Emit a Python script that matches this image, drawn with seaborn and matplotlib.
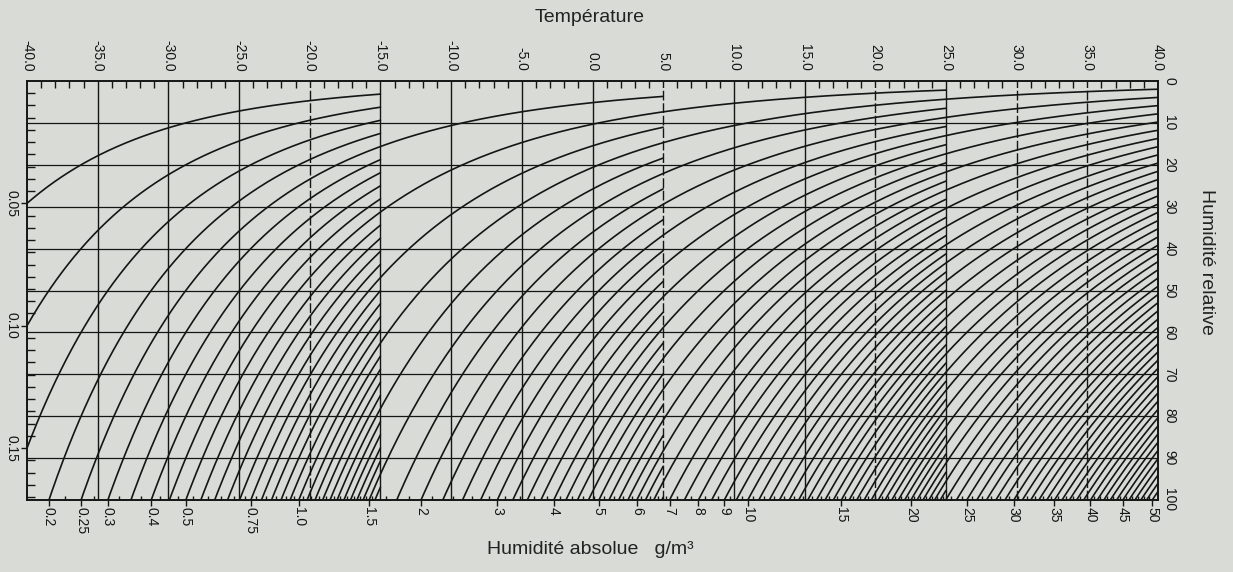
import numpy as np
import pandas as pd
import seaborn as sns
import matplotlib
matplotlib.use('Agg')
import matplotlib.pyplot as plt

# temperature scale (°C) along the top, relative humidity (%) along the right
temp_ticks = [-40, -35, -30, -25, -20, -15, -10, -5, 0, 5, 10, 15, 20, 25, 30, 35, 40]
rh_ticks = [0, 10, 20, 30, 40, 50, 60, 70, 80, 90, 100]

# absolute humidity levels (g/m3); each family stops at its own temperature
ah_fine = np.round(np.arange(0.05, 1.651, 0.05), 2)      # drawn up to -15 °C
ah_quarter = np.round(np.arange(0.25, 7.01, 0.25), 2)    # drawn up to 5 °C
ah_half = np.round(np.arange(0.5, 23.01, 0.5), 2)        # drawn up to 25 °C
ah_unit = np.arange(1, 51).astype(float)                 # drawn up to 40 °C
family_end = [-15, 5, 25, 40]

# labelled values: curve ends on the bottom edge, and on the left edge
ah_bottom = [0.2, 0.25, 0.3, 0.4, 0.5, 0.75, 1.0, 1.5, 2, 3, 4, 5, 6, 7, 8, 9,
             10, 15, 20, 25, 30, 35, 40, 45, 50]
ah_bottom_text = ['0.2', '0.25', '0.3', '0.4', '0.5', '0.75', '1.0', '1.5', '2', '3',
                  '4', '5', '6', '7', '8', '9', '10', '15', '20', '25', '30', '35',
                  '40', '45', '50']
ah_left = [0.05, 0.10, 0.15]
ah_left_text = ['0.05', '0.10', '0.15']


def sat_density(t):
    # saturation vapour density over water, g/m3 (Tetens)
    e = 6.1078 * np.exp(17.27 * t / (237.3 + t))
    return 216.7 * e / (t + 273.15)


def temp_at_saturation(ah):
    grid = np.linspace(-45, 45, 9001)
    return np.interp(ah, sat_density(grid), grid)


# every level keeps the longest stretch of the families it belongs to
ends = {}
for levels, t_end in zip([ah_fine, ah_quarter, ah_half, ah_unit], family_end):
    for a in levels:
        ends[round(float(a), 2)] = t_end

frames = []
for a, t_end in ends.items():
    t0 = max(-40.0, temp_at_saturation(a) - 0.2)
    if t0 >= t_end:
        continue
    t = np.linspace(t0, t_end, 600)
    frames.append(pd.DataFrame({'t': t, 'rh': a / sat_density(t) * 100, 'ah': a}))
curves = pd.concat(frames, ignore_index=True)

bg = '#d9dbd7'
ink = '#151515'

sns.set_theme(style='white')
plt.rcParams['font.family'] = ['Liberation Sans', 'DejaVu Sans']
plt.rcParams['text.color'] = '#222222'
plt.rcParams['xtick.color'] = ink
plt.rcParams['ytick.color'] = ink

W, H = 1233, 572
fig = plt.figure(figsize=(W / 100, H / 100), dpi=100, facecolor=bg)
ax = fig.add_axes([27 / W, 1 - 500 / H, (1158 - 27) / W, (500 - 81) / H])
ax.set_facecolor(bg)

# grid
dashed = [-20, 5, 20, 30, 35]
for t in temp_ticks[1:-1]:
    ax.axvline(t, color=ink, lw=1.0, ls=(0, (7, 2)) if t in dashed else '-', zorder=1)
for r in rh_ticks[1:-1]:
    ax.axhline(r, color=ink, lw=0.9, zorder=1)

sns.lineplot(data=curves, x='t', y='rh', units='ah', estimator=None, sort=False,
             color=ink, lw=1.2, legend=False, ax=ax, zorder=2)

ax.set_xlim(-40, 40)
ax.set_ylim(100, 0)
ax.set_xlabel('')
ax.set_ylabel('')
for s in ax.spines.values():
    s.set_color(ink)
    s.set_linewidth(1.4)

# bottom: absolute humidity where each curve reaches saturation
bottom_pos = temp_at_saturation(np.array(ah_bottom, dtype=float))
ax.set_xticks(bottom_pos, labels=ah_bottom_text, rotation=-90)
ax.tick_params(axis='x', which='major', direction='out', length=4, width=1, pad=1,
               labelsize=10, bottom=True)
ends_on_bottom = sorted(temp_at_saturation(a) for a, te in ends.items()
                        if sat_density(-40) < a and temp_at_saturation(a) < te)
mids = [(p + q) / 2 for p, q in zip(ends_on_bottom[:-1], ends_on_bottom[1:])]
ax.set_xticks(mids, minor=True)
ax.tick_params(axis='x', which='minor', direction='in', length=3, width=1, bottom=True)

# left: absolute humidity where curves meet -40 °C
left_pos = [a / sat_density(-40.0) * 100 for a in ah_left]
ax.set_yticks(left_pos, labels=ah_left_text, rotation=-90, va='center')
ax.tick_params(axis='y', which='major', direction='out', length=4, width=1, pad=2,
               labelsize=10, left=True)
ax.set_yticks([a / sat_density(-40.0) * 100 for a in np.arange(0.005, 0.171, 0.005)],
              minor=True)
ax.tick_params(axis='y', which='minor', direction='in', length=6, width=1, left=True)

# top: temperature
top = ax.secondary_xaxis('top')
top.set_xticks(temp_ticks, labels=[f'{t:.1f}' for t in temp_ticks], rotation=-90)
top.set_xticks([t for t in range(-40, 41) if t % 5], minor=True)
top.tick_params(axis='x', which='major', length=0, pad=7, labelsize=10)
top.tick_params(axis='x', which='minor', direction='in', length=5, width=1)
top.spines['top'].set_visible(False)

# right: relative humidity
right = ax.secondary_yaxis('right')
right.set_yticks(rh_ticks, labels=[str(r) for r in rh_ticks], rotation=-90, va='center')
right.tick_params(axis='y', length=0, pad=3, labelsize=10)
right.spines['right'].set_visible(False)

fig.text(590 / W, 1 - 17 / H, 'Température', fontsize=14, ha='center', va='center')
fig.text(590 / W, 1 - 550 / H, 'Humidité absolue   g/m³', fontsize=14,
         ha='center', va='center')
fig.text(1207 / W, 1 - 262 / H, 'Humidité relative', fontsize=14, rotation=-90,
         ha='center', va='center')

fig.savefig('out.png', dpi=100, facecolor=bg)
